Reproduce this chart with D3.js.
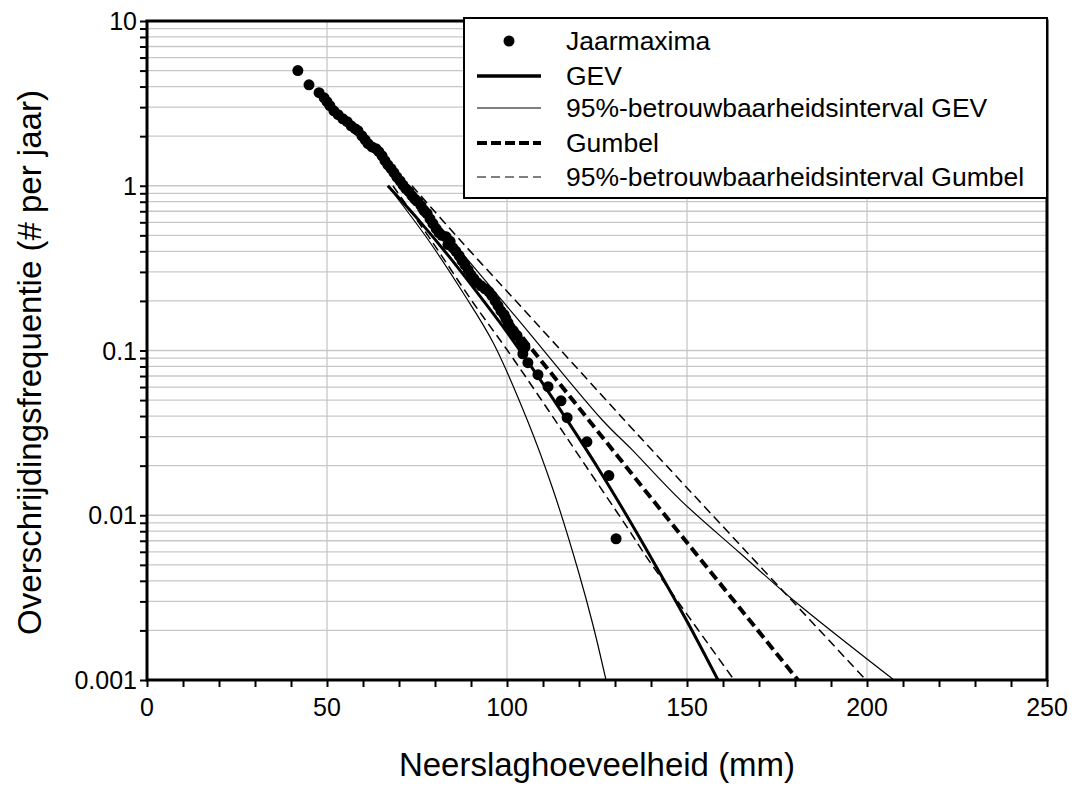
<!DOCTYPE html>
<html>
<head>
<meta charset="utf-8">
<script src="https://cdn.jsdelivr.net/npm/d3@7"></script>
<style>
  body { margin: 0; background: #fff; }
  text { font-family: "Liberation Sans", Arial, sans-serif; fill: #000; }
</style>
</head>
<body>
<script>
// jaarmaxima (mm) and exceedance frequency (# per jaar)
var maximaMm = [41.9, 45.0, 47.8, 49.2, 50.0, 50.8, 51.9, 53.1, 54.4, 55.6, 56.7, 57.8, 58.6, 59.7,
  60.6, 61.4, 62.5, 63.6, 64.4, 65.3, 66.1, 66.9, 67.8, 68.6, 69.4, 70.3, 71.1, 71.9, 72.8, 73.6,
  74.4, 75.3, 76.1, 76.9, 77.8, 78.6, 79.4, 80.3, 81.1, 81.9, 83.1, 84.2, 83.6, 85.0, 85.8, 86.7,
  87.5, 88.3, 89.2, 90.0, 90.8, 91.7, 92.8, 93.9, 95.0, 95.8, 96.7, 97.5, 98.3, 99.2, 99.7, 100.3,
  100.8, 101.7, 102.8, 103.9, 105.0, 104.4, 105.8, 108.6, 111.4, 115.0, 116.7, 122.2, 128.3, 130.3]
var maximaFreq = [5.0, 4.10, 3.67, 3.42, 3.24, 3.06, 2.85, 2.70, 2.55, 2.45, 2.31, 2.22, 2.16, 2.01,
  1.90, 1.80, 1.72, 1.68, 1.61, 1.52, 1.42, 1.34, 1.27, 1.20, 1.13, 1.07, 1.01, 0.96, 0.92, 0.87,
  0.83, 0.80, 0.76, 0.71, 0.68, 0.63, 0.59, 0.55, 0.52, 0.50, 0.49, 0.46, 0.44, 0.42, 0.40, 0.376,
  0.351, 0.331, 0.309, 0.288, 0.273, 0.258, 0.247, 0.237, 0.227, 0.215, 0.200, 0.187, 0.174, 0.165, 0.156, 0.147,
  0.139, 0.132, 0.123, 0.113, 0.105, 0.0955, 0.0843, 0.0713, 0.0603, 0.0495, 0.0391, 0.0279, 0.0174, 0.0072]

var gevMm   = [66.9, 75.3, 83.6, 91.9, 100.3, 108.6, 116.9, 125.3, 133.6, 141.9, 150.3, 158.6]
var gevFreq = [1.0, 0.625, 0.379, 0.222, 0.1265, 0.0697, 0.0372, 0.0193, 0.00966, 0.00469, 0.00221, 0.001]

var gevLoMm   = [66.9, 78.1, 87.8, 96.1, 105.6, 112.8, 119.7, 123.9, 127.5]
var gevLoFreq = [1.0, 0.47, 0.224, 0.1122, 0.038, 0.01428, 0.00467, 0.00215, 0.001]

var gevHiMm   = [71.9, 84.4, 103.1, 126.4, 134.7, 148.1, 164.7, 179.4, 207.5]
var gevHiFreq = [1.0, 0.47, 0.154, 0.038, 0.025, 0.0124, 0.0059, 0.00307, 0.001]

var gumMm   = [70.3, 107.2, 143.9, 180.8]
var gumFreq = [1.0, 0.1, 0.01, 0.001]

var gumLoMm   = [68.3, 79.4, 90.6, 100.0, 111.4, 121.1, 133.3, 139.2, 163.1]
var gumLoFreq = [1.0, 0.451, 0.195, 0.101, 0.0437, 0.0211, 0.0085, 0.0054, 0.001]

var gumHiMm   = [73.6, 86.9, 107.2, 133.3, 153.1, 199.7]
var gumHiFreq = [1.0, 0.47, 0.154, 0.0364, 0.0124, 0.001]

var xTicks = [0, 50, 100, 150, 200, 250]
var yTicks = [0.001, 0.01, 0.1, 1, 10]
var yTickLabels = ['0.001', '0.01', '0.1', '1', '10']

var legendLabels = ['Jaarmaxima', 'GEV', '95%-betrouwbaarheidsinterval GEV', 'Gumbel', '95%-betrouwbaarheidsinterval Gumbel']

var W = 1074, H = 791
var pL = 147, pR = 1047, pT = 21, pB = 680

var svg = d3.select('body').append('svg')
  .attr('width', W)
  .attr('height', H)

var x = d3.scaleLinear().domain([0, 250]).range([pL, pR])
var y = d3.scaleLog().domain([0.001, 10]).range([pB, pT])

// minor values for the log axis
var yMinor = []
;[0.001, 0.01, 0.1, 1].forEach(function(d){
  for (var k = 1; k <= 10; k++) yMinor.push(+(d * k).toPrecision(3))
})
yMinor = Array.from(new Set(yMinor))
var xMinor = d3.range(0, 251, 10)

// grid
svg.append('g').selectAll('line')
  .data(yMinor)
  .enter().append('line')
  .attr('x1', pL).attr('x2', pR)
  .attr('y1', function(d){ return y(d) }).attr('y2', function(d){ return y(d) })
  .attr('stroke', '#c8c8c8').attr('stroke-width', 1.3)

svg.append('g').selectAll('line')
  .data(xTicks)
  .enter().append('line')
  .attr('x1', function(d){ return x(d) }).attr('x2', function(d){ return x(d) })
  .attr('y1', pT).attr('y2', pB)
  .attr('stroke', '#c8c8c8').attr('stroke-width', 1.3)

svg.append('clipPath').attr('id', 'clip')
  .append('rect').attr('x', pL).attr('y', pT).attr('width', pR - pL).attr('height', pB - pT)

var plot = svg.append('g').attr('clip-path', 'url(#clip)')

var line = d3.line()
  .x(function(d){ return x(d[0]) })
  .y(function(d){ return y(d[1]) })
  .curve(d3.curveCatmullRom.alpha(0.5))

function pairs(a, b){ return a.map(function(v, i){ return [v, b[i]] }) }

var curves = [
  {mm: gevLoMm, f: gevLoFreq, w: 1.2, dash: null},
  {mm: gevHiMm, f: gevHiFreq, w: 1.2, dash: null},
  {mm: gumLoMm, f: gumLoFreq, w: 1.5, dash: '9,5'},
  {mm: gumHiMm, f: gumHiFreq, w: 1.5, dash: '9,5'},
  {mm: gevMm, f: gevFreq, w: 3, dash: null},
  {mm: gumMm, f: gumFreq, w: 4, dash: '10,5'}
]

curves.forEach(function(c){
  plot.append('path')
    .datum(pairs(c.mm, c.f))
    .attr('d', line)
    .attr('fill', 'none')
    .attr('stroke', '#000')
    .attr('stroke-width', c.w)
    .attr('stroke-dasharray', c.dash)
})

plot.selectAll('circle')
  .data(pairs(maximaMm, maximaFreq))
  .enter().append('circle')
  .attr('cx', function(d){ return x(d[0]) })
  .attr('cy', function(d){ return y(d[1]) })
  .attr('r', 5.5)
  .attr('fill', '#000')

// axes
var xAxis = svg.append('g').attr('transform', 'translate(0,' + pB + ')')
  .call(d3.axisBottom(x).tickValues(xMinor).tickSize(7).tickFormat(''))
xAxis.select('.domain').remove()
xAxis.selectAll('line').attr('stroke-width', 2)

var yAxis = svg.append('g').attr('transform', 'translate(' + pL + ',0)')
  .call(d3.axisLeft(y).tickValues(yMinor).tickSize(7).tickFormat(''))
yAxis.select('.domain').remove()
yAxis.selectAll('line').attr('stroke-width', 2)

svg.append('g').selectAll('text')
  .data(xTicks)
  .enter().append('text')
  .attr('x', function(d){ return x(d) })
  .attr('y', pB + 36)
  .attr('text-anchor', 'middle')
  .attr('font-size', 25)
  .text(function(d){ return d })

svg.append('g').selectAll('text')
  .data(yTicks)
  .enter().append('text')
  .attr('x', pL - 10)
  .attr('y', function(d){ return y(d) + 9 })
  .attr('text-anchor', 'end')
  .attr('font-size', 25)
  .text(function(d, i){ return yTickLabels[i] })

svg.append('rect')
  .attr('x', pL).attr('y', pT).attr('width', pR - pL).attr('height', pB - pT)
  .attr('fill', 'none').attr('stroke', '#000').attr('stroke-width', 3)

svg.append('text')
  .attr('x', (pL + pR) / 2).attr('y', 776)
  .attr('text-anchor', 'middle')
  .attr('font-size', 33)
  .text('Neerslaghoeveelheid (mm)')

svg.append('text')
  .attr('transform', 'translate(41,' + ((pT + pB) / 2 + 12) + ') rotate(-90)')
  .attr('text-anchor', 'middle')
  .attr('font-size', 33)
  .text('Overschrijdingsfrequentie (# per jaar)')

// legend
var lg = svg.append('g')
lg.append('rect')
  .attr('x', 464).attr('y', 18).attr('width', 583).attr('height', 180)
  .attr('fill', '#fff').attr('stroke', '#000').attr('stroke-width', 2)

var legendRows = [41, 76, 108, 143, 177]
var legendStyle = [
  {w: 0, dash: null},
  {w: 3.5, dash: null},
  {w: 1, dash: null},
  {w: 4, dash: '10,4'},
  {w: 1.2, dash: '9,5'}
]

legendRows.forEach(function(ry, i){
  if (i === 0) {
    lg.append('circle').attr('cx', 509).attr('cy', ry).attr('r', 5.5).attr('fill', '#000')
  } else {
    lg.append('line')
      .attr('x1', 477).attr('x2', 541).attr('y1', ry).attr('y2', ry)
      .attr('stroke', '#000')
      .attr('stroke-width', legendStyle[i].w)
      .attr('stroke-dasharray', legendStyle[i].dash)
  }
  lg.append('text')
    .attr('x', 566).attr('y', ry + 9)
    .attr('font-size', 26.5)
    .text(legendLabels[i])
})
</script>
</body>
</html>
